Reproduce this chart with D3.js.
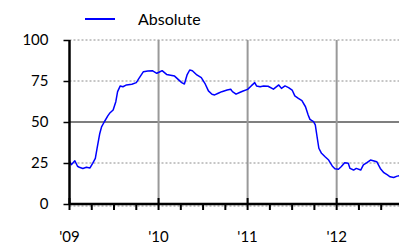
<!DOCTYPE html>
<html>
<head>
<meta charset="utf-8">
<script src="https://cdn.jsdelivr.net/npm/d3@7"></script>
<style>
  body { margin: 0; background: #fff; }
  svg { display: block; font-family: Lato, 'Open Sans', sans-serif; }
</style>
</head>
<body>
<div id="chart"></div>
<script>
// decimal years
const years = [
  2009.00, 2009.02, 2009.06, 2009.09, 2009.11, 2009.15, 2009.19, 2009.23, 2009.26, 2009.29,
  2009.31, 2009.34, 2009.36, 2009.39, 2009.43, 2009.45, 2009.49, 2009.52, 2009.54, 2009.57,
  2009.60, 2009.64, 2009.70, 2009.75, 2009.78, 2009.83, 2009.88, 2009.93, 2009.98, 2010.01,
  2010.04, 2010.09, 2010.15, 2010.18, 2010.22, 2010.26, 2010.29, 2010.32, 2010.35, 2010.38,
  2010.43, 2010.48, 2010.52, 2010.56, 2010.60, 2010.63, 2010.67, 2010.71, 2010.77, 2010.81,
  2010.83, 2010.87, 2010.91, 2010.95, 2011.00, 2011.04, 2011.08, 2011.10, 2011.14, 2011.18,
  2011.23, 2011.29, 2011.35, 2011.38, 2011.42, 2011.46, 2011.50, 2011.53, 2011.57, 2011.61,
  2011.65, 2011.68, 2011.70, 2011.74, 2011.76, 2011.78, 2011.80, 2011.83, 2011.87, 2011.91,
  2011.95, 2011.98, 2012.02, 2012.05, 2012.09, 2012.13, 2012.15, 2012.19, 2012.22, 2012.27,
  2012.30, 2012.34, 2012.38, 2012.41, 2012.45, 2012.49, 2012.53, 2012.57, 2012.60, 2012.64,
  2012.68, 2012.70
]
const absolute = [
  26.0, 24.0, 26.4, 23.0, 22.4, 21.7, 22.4, 22.0, 24.8, 27.8,
  34.0, 43.0, 47.0, 50.0, 53.7, 55.3, 57.3, 62.4, 68.5, 72.0,
  71.5, 72.6, 73.0, 74.0, 76.6, 80.7, 81.1, 81.3, 79.7, 80.5,
  81.3, 79.0, 78.4, 78.0, 76.0, 74.0, 73.2, 78.7, 81.7, 81.3,
  78.7, 77.0, 73.6, 69.0, 66.9, 66.5, 67.5, 68.5, 69.5, 70.0,
  68.5, 67.0, 68.0, 68.9, 69.9, 72.0, 74.0, 72.0, 71.5, 72.0,
  71.8, 70.0, 72.6, 70.5, 72.0, 71.0, 69.5, 65.9, 64.4, 63.0,
  59.3, 54.3, 51.6, 50.2, 48.2, 41.0, 34.0, 30.9, 28.8, 26.8,
  23.2, 21.5, 21.2, 22.7, 25.2, 24.8, 21.7, 20.7, 21.7, 20.7,
  23.8, 25.2, 26.8, 26.4, 25.8, 21.7, 19.1, 17.7, 16.6, 16.2,
  17.0, 17.2
]
const yTicks = [0, 25, 50, 75, 100]
const xYears = [2009, 2010, 2011, 2012]
const xLabels = ["'09", "'10", "'11", "'12"]
const seriesName = 'Absolute'

const margin = { top: 40, left: 69.5, right: 4, bottom: 46 }
const width = 403 - margin.left - margin.right
const height = 250 - margin.top - margin.bottom

const svg = d3
  .select('#chart')
  .append('svg')
  .attr('width', 403)
  .attr('height', 250)

const g = svg
  .append('g')
  .attr('transform', 'translate(' + margin.left + ',' + margin.top + ')')

const xScale = d3.scaleLinear().domain([2009, 2012.7]).range([0, width])
const yScale = d3.scaleLinear().domain([0, 100]).range([height, 0])

// horizontal grid
g.selectAll('.hgrid')
  .data(yTicks.filter(d => d !== 0))
  .enter()
  .append('line')
  .attr('x1', 0)
  .attr('x2', width)
  .attr('y1', d => yScale(d))
  .attr('y2', d => yScale(d))
  .attr('stroke', d => (d === 50 ? '#000' : '#8c8c8c'))
  .attr('stroke-width', d => (d === 50 ? 1.2 : 1))
  .attr('stroke-dasharray', d => (d === 50 ? null : '2,2'))

// dotted line peeking out under the x axis
g.append('line')
  .attr('x1', 0)
  .attr('x2', width)
  .attr('y1', yScale(0) + 2)
  .attr('y2', yScale(0) + 2)
  .attr('stroke', '#8c8c8c')
  .attr('stroke-dasharray', '2,2')

// vertical grid at each year
g.selectAll('.vgrid')
  .data(xYears.slice(1))
  .enter()
  .append('line')
  .attr('x1', d => xScale(d))
  .attr('x2', d => xScale(d))
  .attr('y1', 0)
  .attr('y2', height)
  .attr('stroke', '#999')
  .attr('stroke-width', 2)

// the series
const line = d3
  .line()
  .x((d, i) => xScale(years[i]))
  .y(d => yScale(d))

g.append('path')
  .datum(absolute)
  .attr('d', line)
  .attr('fill', 'none')
  .attr('stroke', '#0000ff')
  .attr('stroke-width', 1.5)
  .attr('stroke-linejoin', 'round')

// y axis
const yAxis = d3
  .axisLeft(yScale)
  .tickValues(yTicks)
  .tickSize(6)
  .tickPadding(15)

g.append('g')
  .attr('class', 'y-axis')
  .call(yAxis)
  .call(s => s.select('.domain').remove())
  .call(s => s.selectAll('.tick line').attr('stroke', '#000').attr('stroke-width', 1.5))
  .call(s => s.selectAll('text').attr('font-size', 15).attr('fill', '#000').attr('font-family', 'Lato'))

g.append('line')
  .attr('x1', 0)
  .attr('x2', 0)
  .attr('y1', 0)
  .attr('y2', height)
  .attr('stroke', '#000')
  .attr('stroke-width', 2.5)

// x axis: quarter ticks below, year ticks crossing
const quarters = d3.range(2009, 2012.71, 0.25)

g.selectAll('.qtick')
  .data(quarters)
  .enter()
  .append('line')
  .attr('x1', d => xScale(d))
  .attr('x2', d => xScale(d))
  .attr('y1', d => (Number.isInteger(d) ? height - 6 : height))
  .attr('y2', height + 6)
  .attr('stroke', '#000')
  .attr('stroke-width', 2)

g.append('line')
  .attr('x1', 0)
  .attr('x2', width)
  .attr('y1', height)
  .attr('y2', height)
  .attr('stroke', '#000')
  .attr('stroke-width', 2.5)

g.selectAll('.xlabel')
  .data(xYears)
  .enter()
  .append('text')
  .attr('x', d => xScale(d))
  .attr('y', height + 38)
  .attr('text-anchor', 'middle')
  .attr('font-size', 15)
  .attr('fill', '#000')
  .text((d, i) => xLabels[i])

// legend
const legend = svg.append('g').attr('transform', 'translate(85,19)')

legend
  .append('line')
  .attr('x1', 0)
  .attr('x2', 30)
  .attr('stroke', '#0000ff')
  .attr('stroke-width', 2)

legend
  .append('text')
  .attr('x', 53)
  .attr('y', 6)
  .attr('font-size', 16)
  .attr('fill', '#000')
  .text(seriesName)
</script>
</body>
</html>
